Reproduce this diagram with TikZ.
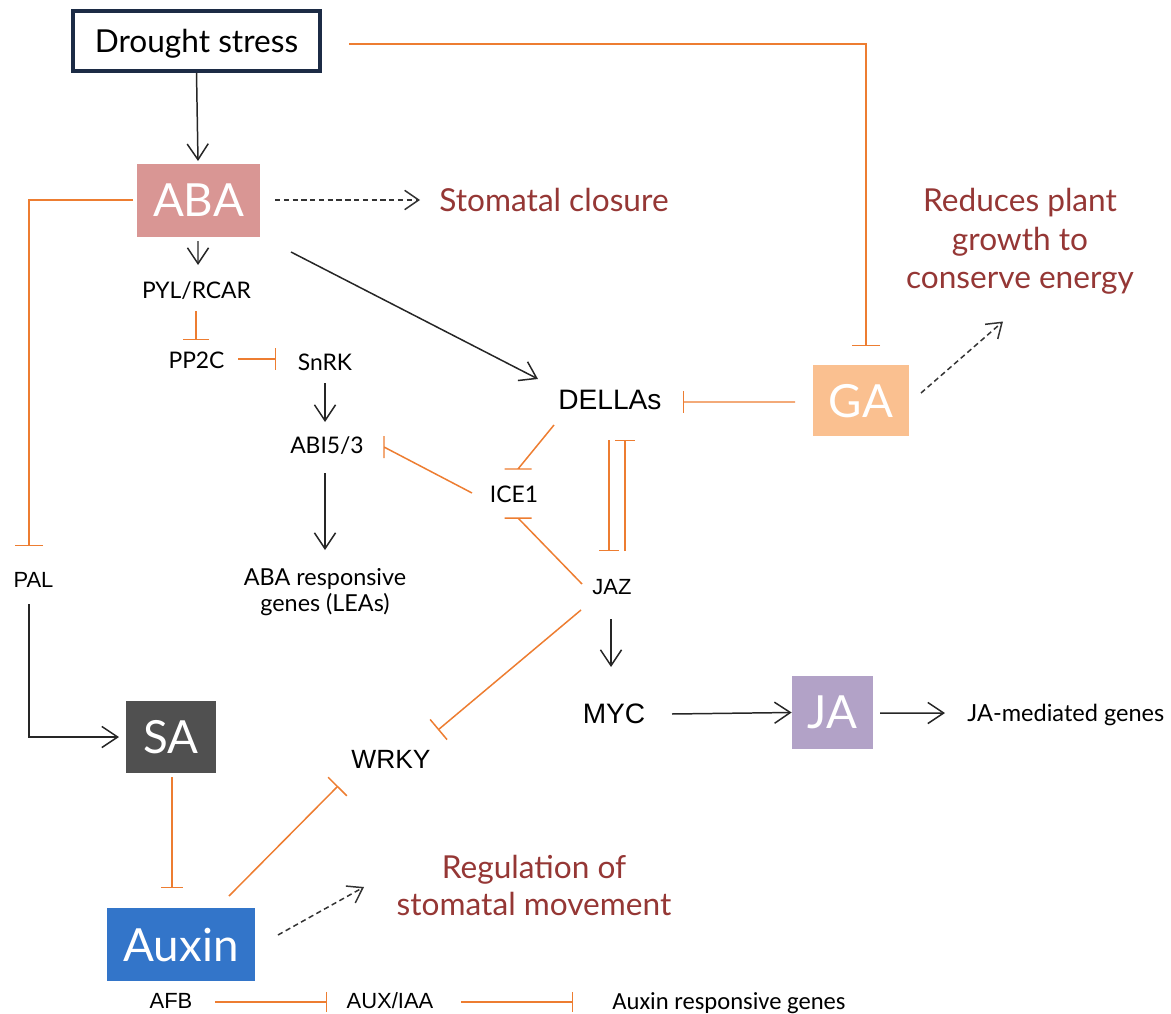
\documentclass[tikz,border=0pt]{standalone}
\usepackage{fontspec}
\setmainfont{Lato}
\newfontfamily\arialf{Liberation Sans}
\newfontfamily\calf{Carlito}
\usetikzlibrary{arrows.meta,calc}
\definecolor{orng}{HTML}{ED7D31}
\definecolor{dred}{HTML}{953735}
\definecolor{navy}{HTML}{1C2B45}
\definecolor{abac}{HTML}{D99694}
\definecolor{gac}{HTML}{FAC090}
\definecolor{jac}{HTML}{B2A2C7}
\definecolor{sac}{HTML}{505050}
\definecolor{auxc}{HTML}{3375C9}
\begin{document}
\begin{tikzpicture}[x=0.02cm,y=-0.02cm,
  every node/.style={inner sep=0pt, text depth=0pt},
  hbox/.style={text=white, font=\fontsize{26}{30}\selectfont},
  sm/.style={font=\fontsize{13}{15}\selectfont},
  smA/.style={font=\arialf\fontsize{12.5}{15}\selectfont},
  big/.style={font=\arialf\fontsize{16}{19}\selectfont},
  red/.style={text=dred, font=\fontsize{18}{21.8}\selectfont, align=center},
  arr/.style={draw=black!85, line width=0.85pt, -{Straight Barb[length=9pt,width=12pt]}},
  dsh/.style={draw=black!80, line width=0.85pt, dash pattern=on 3pt off 2pt, -{Straight Barb[length=8pt,width=11pt]}},
  inh/.style={draw=orng, line width=0.85pt, -{Bar[width=#1]}},
  inh/.default=14pt,
  inhline/.style={draw=orng, line width=0.85pt}]
\useasboundingbox (0,0) rectangle (1171,1014);

% ---- nodes ----
\node[draw=navy, line width=2pt, minimum width=4.94cm, minimum height=1.2cm, font=\fontsize{18}{21}\selectfont] (drought) at (196.5,41) {Drought stress};
\node[hbox, fill=abac, minimum width=2.46cm, minimum height=1.46cm] (aba) at (198.5,200.5) {ABA};
\node[red] (stom) at (554,200) {Stomatal closure};
\node[sm] (pyl) at (196.5,290) {PYL/RCAR};
\node[sm] (pp2c) at (196.5,360) {PP2C};
\node[sm] (snrk) at (325,362) {SnRK};
\node[sm] (abi) at (327,445) {ABI5/3};
\node[sm, align=center, font=\fontsize{13.3}{14.7}\selectfont] (abagenes) at (325,590) {ABA responsive\\genes (LEAs)};
\node[sm] (ice1) at (514,494) {ICE1};
\node[big] (dellas) at (610,400) {DELLAs};
\node[smA] (jaz) at (612,587) {JAZ};
\node[big] (myc) at (614,714) {MYC};
\node[big, font=\arialf\fontsize{15}{18}\selectfont] (wrky) at (391,759) {WRKY};
\node[hbox, fill=jac, minimum width=1.62cm, minimum height=1.46cm] (ja) at (832.5,712.5) {JA};
\node[font=\fontsize{13.4}{16}\selectfont, anchor=west] (jagenes) at (967,713) {JA-mediated genes};
\node[hbox, fill=gac, minimum width=1.92cm, minimum height=1.42cm] (ga) at (861,400.5) {GA};
\node[red] (reduces) at (1020,238.5) {Reduces plant\\growth to\\conserve energy};
\node[smA] (pal) at (33.5,580) {PAL};
\node[hbox, fill=sac, minimum width=1.8cm, minimum height=1.46cm] (sa) at (171,737) {SA};
\node[hbox, fill=auxc, minimum width=2.96cm, minimum height=1.46cm] (auxin) at (181,944.5) {Auxin};
\node[red, font=\fontsize{18}{21}\selectfont] (regul) at (534,885) {Regulation of\\stomatal movement};
\node[smA] (afb) at (171,1001) {AFB};
\node[smA] (auxiaa) at (390,1001) {AUX/IAA};
\node[font=\calf\fontsize{14}{16}\selectfont, anchor=west] (auxgenes) at (612,1001) {Auxin responsive genes};

% ---- connectors ----
\draw[arr] (drought.south) -- ($(aba)+(-0.5,-39.5)$);
\draw[inh=16pt] ($(aba)+(-65.5,-0.5)$) -| ($(pal)+(-4.5,-34)$);
\draw[dsh] ($(aba)+(76.5,-0.5)$) -- ($(stom)+(-134,0)$);
\draw[arr] ($(aba)+(-0.5,40.5)$) -- ($(pyl)+(1.5,-25)$);
\draw[inh=15pt] ($(pyl)+(-0.5,21)$) -- ($(pp2c)+(-0.5,-20)$);
\draw[inh=12.5pt] ($(pp2c)+(41.5,-1)$) -- ($(snrk)+(-49,-3)$);
\draw[arr] ($(snrk)+(0,21)$) -- ($(abi)+(-2,-23)$);
\draw[arr] ($(abi)+(-2,28)$) -- ($(abagenes)+(0,-40)$);
\draw[inhline] ($(ice1)+(-42,-1)$) -- ($(abi)+(57,2)$) ++(0,-11) -- ++(0,22);
\draw[inhline] ($(dellas)+(-56,25)$) -- ($(ice1)+(4,-25)$) ++(-13.5,0) -- ++(27,0);
\draw[inhline] ($(jaz)+(-30,-3)$) -- ($(ice1)+(4,24)$) ++(-13.5,0) -- ++(27,0);
\draw[arr] ($(aba)+(92.5,51.5)$) -- ($(dellas)+(-72,-21)$);
\draw[inh=12pt] ($(ga)+(-66,1.5)$) -- ($(dellas)+(73,2)$);
\draw[inh=11.5pt] ($(dellas)+(-1,40)$) -- ($(jaz)+(-3,-36)$);
\draw[inh=11pt] ($(jaz)+(13,-36)$) -- ($(dellas)+(15,40)$);
\draw[arr] ($(jaz)+(-1,32)$) -- ($(myc)+(-3,-47)$);
\draw[inh=15pt] ($(jaz)+(-31,23)$) -- ($(wrky)+(47,-29)$);
\draw[arr] ($(myc)+(58,0)$) -- (ja.west);
\draw[arr] ($(ja)+(47.5,0.5)$) -- ($(jagenes.west)+(-22,0)$);
\draw[inh=16pt] ($(drought)+(152.5,3)$) -| ($(ga)+(5,-54.5)$);
\draw[dsh] ($(ga)+(60,-7.5)$) -- ($(reduces)+(-17,83)$);
\draw[arr] ($(pal)+(-4.5,24)$) |- ($(sa)+(-52,0)$);
\draw[inh=12.5pt] ($(sa)+(1,40)$) -- ($(auxin)+(-9,-56.5)$);
\draw[inh=15pt] ($(auxin)+(48,-48.5)$) -- ($(wrky)+(-53,27)$);
\draw[dsh] ($(auxin)+(97,-9.5)$) -- ($(regul)+(-170,2)$);
\draw[inh=11.5pt] ($(afb)+(44,1)$) -- ($(auxiaa)+(-63,1)$);
\draw[inh=11.5pt] ($(auxiaa)+(71,1)$) -- ($(auxgenes.west)+(-39,1)$);
\end{tikzpicture}
\end{document}
